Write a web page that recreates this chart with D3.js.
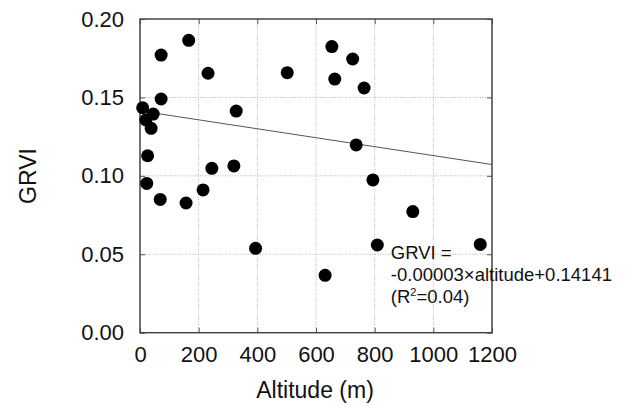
<!DOCTYPE html>
<html>
<head>
<meta charset="utf-8">
<script src="https://cdn.jsdelivr.net/npm/d3@7"></script>
<style>
  body { margin: 0; background: #fff; }
  text { font-family: "Liberation Sans", Arial, sans-serif; fill: #111; }
</style>
</head>
<body>
<div class="chart"></div>
<script>
var w = 629;
var h = 405;

// altitude (m) and GRVI for each site
const altitude = [9, 45, 20, 38, 72, 72, 166, 232, 502, 328, 26, 245, 320, 23, 69, 157, 215, 394,
                  654, 725, 664, 764, 737, 794, 930, 809, 1160, 631];
const grvi = [0.1434, 0.1394, 0.1356, 0.1303, 0.177, 0.149, 0.1864, 0.1654, 0.1658, 0.1413, 0.1128, 0.1048,
              0.1063, 0.0952, 0.085, 0.0827, 0.091, 0.0538, 0.1824, 0.1745, 0.1617, 0.156, 0.1197, 0.0974,
              0.0772, 0.0559, 0.0563, 0.0366];

const xTicks = [0, 200, 400, 600, 800, 1000, 1200];
const yTicks = [0, 0.05, 0.10, 0.15, 0.20];

// regression fit as printed in the figure
const fitSlope = -0.0000285;
const fitIntercept = 0.14141;
const fitLines = ["GRVI =", "-0.00003\u00d7altitude+0.14141"];

var m = {left: 140, top: 19, right: 629 - 492, bottom: 405 - 332.7};
var iw = w - m.left - m.right;
var ih = h - m.top - m.bottom;

var svg = d3.select(".chart").append("svg")
    .attr("width", w)
    .attr("height", h);

var g = svg.append("g").attr("transform", "translate(" + m.left + "," + m.top + ")");

const x = d3.scaleLinear().domain([0, 1200]).range([0, iw]);
const y = d3.scaleLinear().domain([0, 0.2]).range([ih, 0]);

// grid
g.selectAll(".gx").data(xTicks.slice(1, -1)).enter().append("line")
    .attr("x1", d => x(d)).attr("x2", d => x(d))
    .attr("y1", 0).attr("y2", ih)
    .attr("stroke", "#b5b5b5").attr("stroke-width", 1).attr("stroke-dasharray", "1,1.5");
g.selectAll(".gy").data(yTicks.slice(1, -1)).enter().append("line")
    .attr("x1", 0).attr("x2", iw)
    .attr("y1", d => y(d)).attr("y2", d => y(d))
    .attr("stroke", "#b5b5b5").attr("stroke-width", 1).attr("stroke-dasharray", "1,1.5");

// axes with inward ticks
var xAxis = g.append("g").attr("transform", "translate(0," + ih + ")")
    .call(d3.axisBottom(x).tickValues(xTicks).tickFormat(d3.format("d")).tickSizeInner(-5).tickSizeOuter(0).tickPadding(14));
var yAxis = g.append("g")
    .call(d3.axisLeft(y).tickValues(yTicks).tickFormat(d3.format(".2f")).tickSizeInner(-5).tickSizeOuter(0).tickPadding(16));
g.append("g").call(d3.axisTop(x).tickValues(xTicks).tickFormat("").tickSizeInner(-5).tickSizeOuter(0));
g.append("g").attr("transform", "translate(" + iw + ",0)")
    .call(d3.axisRight(y).tickValues(yTicks).tickFormat("").tickSizeInner(-5).tickSizeOuter(0));

g.selectAll(".domain").remove();
g.selectAll(".tick line").attr("stroke", "#555");
g.selectAll(".tick text").attr("font-size", 22).attr("fill", "#111")
    .attr("font-family", "'Liberation Sans', Arial, sans-serif");
xAxis.selectAll("text").attr("dy", "0.71em");

g.append("rect")
    .attr("width", iw).attr("height", ih)
    .attr("fill", "none").attr("stroke", "#444").attr("stroke-width", 1.5);

// fit line
g.append("line")
    .attr("x1", x(0)).attr("y1", y(fitIntercept))
    .attr("x2", x(1200)).attr("y2", y(fitIntercept + fitSlope * 1200))
    .attr("stroke", "#555").attr("stroke-width", 1);

// points
g.selectAll("circle")
    .data(altitude)
    .enter()
    .append("circle")
    .attr("cx", (d) => x(d))
    .attr("cy", (d, i) => y(grvi[i]))
    .attr("r", 6.5)
    .attr("fill", "#000");

// equation text
var eq = g.append("text").attr("font-size", 18.5).attr("fill", "#111");
fitLines.forEach((t, i) => {
  eq.append("tspan").attr("x", x(855)).attr("y", 259.3 + i * 21.7 - m.top).text(t);
});
var r2 = eq.append("tspan").attr("x", x(855)).attr("y", 259.3 + 2 * 21.7 - m.top);
r2.append("tspan").text("(R");
r2.append("tspan").attr("font-size", 11).attr("dy", -7).text("2");
r2.append("tspan").attr("dy", 7).text("=0.04)");

// axis titles
svg.append("text")
    .attr("x", m.left + iw / 2 - 1).attr("y", 398)
    .attr("text-anchor", "middle").attr("font-size", 23)
    .text("Altitude (m)");
svg.append("text")
    .attr("transform", "translate(36,176) rotate(-90)")
    .attr("text-anchor", "middle").attr("font-size", 23)
    .text("GRVI");
</script>
</body>
</html>
